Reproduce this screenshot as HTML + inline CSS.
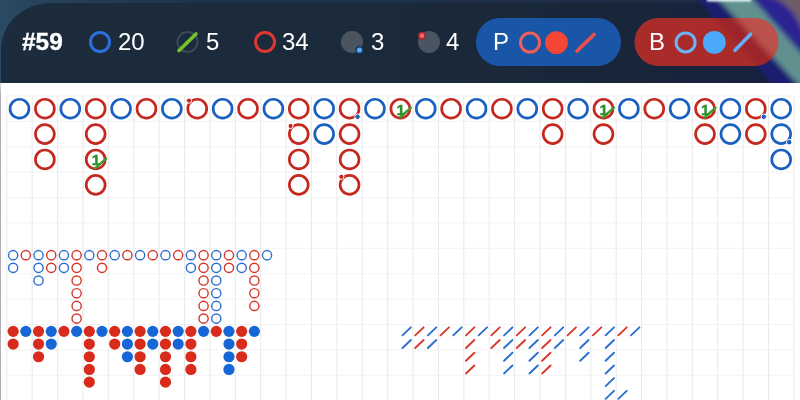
<!DOCTYPE html>
<html lang="en"><head><meta charset="utf-8"><title>Baccarat roads</title>
<style>
html,body{margin:0;padding:0}
body{width:800px;height:400px;overflow:hidden;position:relative;background:#fff;font-family:"Liberation Sans",sans-serif}
#bg{position:absolute;left:0;top:0;width:800px;height:83px;background:linear-gradient(90deg,#2b4a63 0,#25435b 40px,#1d3348 200px,#1b2a44 800px)}
#hdr{position:absolute;left:1px;top:3px;width:799px;height:80px;background:linear-gradient(90deg,#1c2c3c 0,#1b2a3a 400px,#18253a 640px,#172040 800px);border-radius:50px 30px 0 0/46px 30px 0 0}
.t{will-change:transform;position:absolute;top:28px;height:28px;line-height:28px;font-size:24px;color:#fff;white-space:nowrap}
.pill{position:absolute;top:18px;height:48px;border-radius:24px}
#ov{position:absolute;left:0;top:0}
#board{position:absolute;left:0;top:0;will-change:transform}
#edge{position:absolute;left:0;top:83px;width:1px;height:317px;background:linear-gradient(#dcdcdf,#b4adb3 12px,#b4adb3)}
</style></head><body>
<div id="bg"></div>
<div id="hdr"></div>
<svg id="ov" width="800" height="84" viewBox="0 0 800 84">
<defs><filter id="bl" filterUnits="userSpaceOnUse" x="600" y="-20" width="220" height="130"><feGaussianBlur stdDeviation="2.4"/></filter>
<filter id="bl2" filterUnits="userSpaceOnUse" x="680" y="-20" width="120" height="60"><feGaussianBlur stdDeviation="1.3"/></filter>
<clipPath id="cp"><rect x="0" y="0" width="800" height="83"/></clipPath>
<clipPath id="cpb"><rect x="634.5" y="18" width="144" height="48" rx="24"/></clipPath></defs>
<g clip-path="url(#cp)"><g filter="url(#bl)">
<polygon points="694.5,-4 716,-4 806,92 779.5,92" fill="#1d1d84" opacity=".7"/>
<polygon points="715,-4 750,-4 836,92 805,92" fill="#6a9c98" opacity=".9"/>
<polygon points="750,-4 778,-4 872,92 836,92" fill="#2a2298" opacity=".92"/>
<path d="M758 -6 Q791 -3 805 36 L830 -6Z" fill="#6e5c6a"/>
</g>
<rect x="707" y="-3" width="44" height="4.4" fill="#eaffff" filter="url(#bl2)"/>
</g>
<rect x="476" y="18" width="145" height="48" rx="24" fill="#1a56a8"/>
<rect x="634.5" y="18" width="144" height="48" rx="24" fill="#a92c2b"/>
<g clip-path="url(#cpb)"><g filter="url(#bl)">
<polygon points="695,-4 716,-4 806,92 780,92" fill="#5a1030" opacity=".16"/>
<polygon points="716,-4 750,-4 836,92 806,92" fill="#ffd8c0" opacity=".22"/>
</g></g>
<circle cx="100" cy="42" r="9.5" fill="none" stroke="#2c70e0" stroke-width="3"/>
<circle cx="187.5" cy="42" r="10" fill="none" stroke="#3a4957" stroke-width="2"/>
<path d="M179 50.5L196 34" stroke="#77c22c" stroke-width="3.6" stroke-linecap="round"/>
<circle cx="265" cy="42" r="9.5" fill="none" stroke="#e2372f" stroke-width="3"/>
<circle cx="352" cy="42" r="11" fill="#4a5561"/>
<circle cx="359.4" cy="50" r="3.4" fill="#5aa8f6" stroke="#123a66" stroke-width="1.6"/>
<circle cx="429" cy="42" r="11" fill="#4a5561"/>
<circle cx="422" cy="35.8" r="3.2" fill="#f5656c" stroke="#a3262b" stroke-width="1.5"/>
<circle cx="530" cy="42.6" r="9.5" fill="none" stroke="#ee5f58" stroke-width="3"/>
<circle cx="556.5" cy="42.6" r="11.4" fill="#f44634"/>
<path d="M577 51L594 34.5" stroke="#ee4d48" stroke-width="3.7" stroke-linecap="round"/>
<circle cx="685.6" cy="42.4" r="9.5" fill="none" stroke="#6cb2f6" stroke-width="3"/>
<circle cx="714.3" cy="42.4" r="11.4" fill="#4aa9fb"/>
<path d="M735 50.2L750.6 34.2" stroke="#66adf5" stroke-width="3.7" stroke-linecap="round"/>
</svg>
<div class="t" style="left:22.3px;font-weight:700;font-size:24.4px;-webkit-text-stroke:0.35px #fff">#59</div>
<div class="t" style="left:117.5px">20</div>
<div class="t" style="left:206px">5</div>
<div class="t" style="left:282px">34</div>
<div class="t" style="left:371px">3</div>
<div class="t" style="left:445.8px">4</div>
<div class="t" style="left:493px">P</div>
<div class="t" style="left:649px">B</div>
<svg id="board" width="800" height="400" viewBox="0 0 800 400" font-family="Liberation Sans, sans-serif">
<rect x="0" y="83" width="800" height="317" fill="#fff"/>
<g stroke="#e6e6e8" stroke-width="0.9" fill="none"><path d="M6.80 96.00V400"/><path d="M32.19 96.00V400"/><path d="M57.58 96.00V400"/><path d="M82.97 96.00V400"/><path d="M108.36 96.00V400"/><path d="M133.75 96.00V400"/><path d="M159.14 96.00V400"/><path d="M184.53 96.00V400"/><path d="M209.92 96.00V400"/><path d="M235.31 96.00V400"/><path d="M260.70 96.00V400"/><path d="M286.09 96.00V400"/><path d="M311.48 96.00V400"/><path d="M336.87 96.00V400"/><path d="M362.26 96.00V400"/><path d="M387.65 96.00V400"/><path d="M413.04 96.00V400"/><path d="M438.43 96.00V400"/><path d="M463.82 96.00V400"/><path d="M489.21 96.00V400"/><path d="M514.60 96.00V400"/><path d="M539.99 96.00V400"/><path d="M565.38 96.00V400"/><path d="M590.77 96.00V400"/><path d="M616.16 96.00V400"/><path d="M641.55 96.00V400"/><path d="M666.94 96.00V400"/><path d="M692.33 96.00V400"/><path d="M717.72 96.00V400"/><path d="M743.11 96.00V400"/><path d="M768.50 96.00V400"/><path d="M793.89 96.00V400"/></g>
<g stroke="#f0f0f2" stroke-width="0.8" fill="none"><path d="M6.80 96.00H793.89"/><path d="M6.80 121.39H793.89"/><path d="M6.80 146.78H793.89"/><path d="M6.80 172.17H793.89"/><path d="M6.80 197.56H793.89"/><path d="M6.80 222.95H793.89"/><path d="M6.80 248.34H793.89"/><path d="M6.80 273.73H793.89"/><path d="M6.80 299.12H793.89"/><path d="M6.80 324.51H793.89"/><path d="M6.80 349.90H793.89"/><path d="M6.80 375.29H793.89"/><path d="M6.80 400.68H793.89"/></g>
<circle cx="19.50" cy="108.69" r="9.45" fill="none" stroke="#1a60c0" stroke-width="2.7"/>
<circle cx="44.88" cy="108.69" r="9.45" fill="none" stroke="#c5281f" stroke-width="2.7"/>
<circle cx="44.88" cy="134.09" r="9.45" fill="none" stroke="#c5281f" stroke-width="2.7"/>
<circle cx="44.88" cy="159.47" r="9.45" fill="none" stroke="#c5281f" stroke-width="2.7"/>
<circle cx="70.28" cy="108.69" r="9.45" fill="none" stroke="#1a60c0" stroke-width="2.7"/>
<circle cx="95.67" cy="108.69" r="9.45" fill="none" stroke="#c5281f" stroke-width="2.7"/>
<circle cx="95.67" cy="134.09" r="9.45" fill="none" stroke="#c5281f" stroke-width="2.7"/>
<circle cx="95.67" cy="159.47" r="9.45" fill="none" stroke="#c5281f" stroke-width="2.7"/>
<path d="M95.07 168.28L106.27 158.47" stroke="#3f9e2a" stroke-width="2.4" stroke-linecap="round"/>
<text x="95.97" y="165.38" font-size="15.2" font-weight="700" fill="#2d902b" stroke="#2d902b" stroke-width="0.45" text-anchor="middle">1</text>
<circle cx="95.67" cy="184.87" r="9.45" fill="none" stroke="#c5281f" stroke-width="2.7"/>
<circle cx="121.05" cy="108.69" r="9.45" fill="none" stroke="#1a60c0" stroke-width="2.7"/>
<circle cx="146.45" cy="108.69" r="9.45" fill="none" stroke="#c5281f" stroke-width="2.7"/>
<circle cx="171.84" cy="108.69" r="9.45" fill="none" stroke="#1a60c0" stroke-width="2.7"/>
<circle cx="197.23" cy="108.69" r="9.45" fill="none" stroke="#c5281f" stroke-width="2.7"/>
<circle cx="189.03" cy="100.59" r="2.6" fill="#c5281f" stroke="#fff" stroke-width="1.0"/>
<circle cx="222.62" cy="108.69" r="9.45" fill="none" stroke="#1a60c0" stroke-width="2.7"/>
<circle cx="248.01" cy="108.69" r="9.45" fill="none" stroke="#c5281f" stroke-width="2.7"/>
<circle cx="273.40" cy="108.69" r="9.45" fill="none" stroke="#1a60c0" stroke-width="2.7"/>
<circle cx="298.79" cy="108.69" r="9.45" fill="none" stroke="#c5281f" stroke-width="2.7"/>
<circle cx="298.79" cy="134.09" r="9.45" fill="none" stroke="#c5281f" stroke-width="2.7"/>
<circle cx="290.59" cy="125.99" r="2.6" fill="#c5281f" stroke="#fff" stroke-width="1.0"/>
<circle cx="298.79" cy="159.47" r="9.45" fill="none" stroke="#c5281f" stroke-width="2.7"/>
<circle cx="298.79" cy="184.87" r="9.45" fill="none" stroke="#c5281f" stroke-width="2.7"/>
<circle cx="324.18" cy="108.69" r="9.45" fill="none" stroke="#1a60c0" stroke-width="2.7"/>
<circle cx="324.18" cy="134.09" r="9.45" fill="none" stroke="#1a60c0" stroke-width="2.7"/>
<circle cx="349.56" cy="108.69" r="9.45" fill="none" stroke="#c5281f" stroke-width="2.7"/>
<circle cx="357.56" cy="116.79" r="2.75" fill="#1a60c0" stroke="#fff" stroke-width="1.0"/>
<circle cx="349.56" cy="134.09" r="9.45" fill="none" stroke="#c5281f" stroke-width="2.7"/>
<circle cx="349.56" cy="159.47" r="9.45" fill="none" stroke="#c5281f" stroke-width="2.7"/>
<circle cx="349.56" cy="184.87" r="9.45" fill="none" stroke="#c5281f" stroke-width="2.7"/>
<circle cx="341.37" cy="176.77" r="2.6" fill="#c5281f" stroke="#fff" stroke-width="1.0"/>
<circle cx="374.96" cy="108.69" r="9.45" fill="none" stroke="#1a60c0" stroke-width="2.7"/>
<circle cx="400.35" cy="108.69" r="9.45" fill="none" stroke="#c5281f" stroke-width="2.7"/>
<path d="M399.75 117.49L410.95 107.69" stroke="#3f9e2a" stroke-width="2.4" stroke-linecap="round"/>
<text x="400.65" y="114.59" font-size="15.2" font-weight="700" fill="#2d902b" stroke="#2d902b" stroke-width="0.45" text-anchor="middle">1</text>
<circle cx="425.74" cy="108.69" r="9.45" fill="none" stroke="#1a60c0" stroke-width="2.7"/>
<circle cx="451.12" cy="108.69" r="9.45" fill="none" stroke="#c5281f" stroke-width="2.7"/>
<circle cx="476.52" cy="108.69" r="9.45" fill="none" stroke="#1a60c0" stroke-width="2.7"/>
<circle cx="501.91" cy="108.69" r="9.45" fill="none" stroke="#c5281f" stroke-width="2.7"/>
<circle cx="527.29" cy="108.69" r="9.45" fill="none" stroke="#1a60c0" stroke-width="2.7"/>
<circle cx="552.68" cy="108.69" r="9.45" fill="none" stroke="#c5281f" stroke-width="2.7"/>
<circle cx="552.68" cy="134.09" r="9.45" fill="none" stroke="#c5281f" stroke-width="2.7"/>
<circle cx="578.07" cy="108.69" r="9.45" fill="none" stroke="#1a60c0" stroke-width="2.7"/>
<circle cx="603.46" cy="108.69" r="9.45" fill="none" stroke="#c5281f" stroke-width="2.7"/>
<path d="M602.86 117.49L614.06 107.69" stroke="#3f9e2a" stroke-width="2.4" stroke-linecap="round"/>
<text x="603.76" y="114.59" font-size="15.2" font-weight="700" fill="#2d902b" stroke="#2d902b" stroke-width="0.45" text-anchor="middle">1</text>
<circle cx="603.46" cy="134.09" r="9.45" fill="none" stroke="#c5281f" stroke-width="2.7"/>
<circle cx="628.86" cy="108.69" r="9.45" fill="none" stroke="#1a60c0" stroke-width="2.7"/>
<circle cx="654.25" cy="108.69" r="9.45" fill="none" stroke="#c5281f" stroke-width="2.7"/>
<circle cx="679.63" cy="108.69" r="9.45" fill="none" stroke="#1a60c0" stroke-width="2.7"/>
<circle cx="705.02" cy="108.69" r="9.45" fill="none" stroke="#c5281f" stroke-width="2.7"/>
<path d="M704.42 117.49L715.62 107.69" stroke="#3f9e2a" stroke-width="2.4" stroke-linecap="round"/>
<text x="705.32" y="114.59" font-size="15.2" font-weight="700" fill="#2d902b" stroke="#2d902b" stroke-width="0.45" text-anchor="middle">1</text>
<circle cx="705.02" cy="134.09" r="9.45" fill="none" stroke="#c5281f" stroke-width="2.7"/>
<circle cx="730.41" cy="108.69" r="9.45" fill="none" stroke="#1a60c0" stroke-width="2.7"/>
<circle cx="730.41" cy="134.09" r="9.45" fill="none" stroke="#1a60c0" stroke-width="2.7"/>
<circle cx="755.80" cy="108.69" r="9.45" fill="none" stroke="#c5281f" stroke-width="2.7"/>
<circle cx="763.80" cy="116.79" r="2.75" fill="#1a60c0" stroke="#fff" stroke-width="1.0"/>
<circle cx="755.80" cy="134.09" r="9.45" fill="none" stroke="#c5281f" stroke-width="2.7"/>
<circle cx="781.19" cy="108.69" r="9.45" fill="none" stroke="#1a60c0" stroke-width="2.7"/>
<circle cx="781.19" cy="134.09" r="9.45" fill="none" stroke="#1a60c0" stroke-width="2.7"/>
<circle cx="789.19" cy="142.19" r="2.75" fill="#1a60c0" stroke="#fff" stroke-width="1.0"/>
<circle cx="781.19" cy="159.47" r="9.45" fill="none" stroke="#1a60c0" stroke-width="2.7"/>
<circle cx="13.15" cy="255.14" r="4.6" fill="none" stroke="#2a6fd0" stroke-width="1.4"/>
<circle cx="13.15" cy="267.83" r="4.6" fill="none" stroke="#2a6fd0" stroke-width="1.4"/>
<circle cx="25.84" cy="255.14" r="4.6" fill="none" stroke="#d3362c" stroke-width="1.4"/>
<circle cx="38.54" cy="255.14" r="4.6" fill="none" stroke="#2a6fd0" stroke-width="1.4"/>
<circle cx="38.54" cy="267.83" r="4.6" fill="none" stroke="#2a6fd0" stroke-width="1.4"/>
<circle cx="38.54" cy="280.53" r="4.6" fill="none" stroke="#2a6fd0" stroke-width="1.4"/>
<circle cx="51.23" cy="255.14" r="4.6" fill="none" stroke="#d3362c" stroke-width="1.4"/>
<circle cx="51.23" cy="267.83" r="4.6" fill="none" stroke="#d3362c" stroke-width="1.4"/>
<circle cx="63.93" cy="255.14" r="4.6" fill="none" stroke="#2a6fd0" stroke-width="1.4"/>
<circle cx="63.93" cy="267.83" r="4.6" fill="none" stroke="#2a6fd0" stroke-width="1.4"/>
<circle cx="76.62" cy="255.14" r="4.6" fill="none" stroke="#d3362c" stroke-width="1.4"/>
<circle cx="76.62" cy="267.83" r="4.6" fill="none" stroke="#d3362c" stroke-width="1.4"/>
<circle cx="76.62" cy="280.53" r="4.6" fill="none" stroke="#d3362c" stroke-width="1.4"/>
<circle cx="76.62" cy="293.22" r="4.6" fill="none" stroke="#d3362c" stroke-width="1.4"/>
<circle cx="76.62" cy="305.92" r="4.6" fill="none" stroke="#d3362c" stroke-width="1.4"/>
<circle cx="76.62" cy="318.61" r="4.6" fill="none" stroke="#d3362c" stroke-width="1.4"/>
<circle cx="89.32" cy="255.14" r="4.6" fill="none" stroke="#2a6fd0" stroke-width="1.4"/>
<circle cx="102.01" cy="255.14" r="4.6" fill="none" stroke="#d3362c" stroke-width="1.4"/>
<circle cx="102.01" cy="267.83" r="4.6" fill="none" stroke="#d3362c" stroke-width="1.4"/>
<circle cx="114.71" cy="255.14" r="4.6" fill="none" stroke="#2a6fd0" stroke-width="1.4"/>
<circle cx="127.40" cy="255.14" r="4.6" fill="none" stroke="#d3362c" stroke-width="1.4"/>
<circle cx="140.10" cy="255.14" r="4.6" fill="none" stroke="#2a6fd0" stroke-width="1.4"/>
<circle cx="152.79" cy="255.14" r="4.6" fill="none" stroke="#d3362c" stroke-width="1.4"/>
<circle cx="165.49" cy="255.14" r="4.6" fill="none" stroke="#2a6fd0" stroke-width="1.4"/>
<circle cx="178.18" cy="255.14" r="4.6" fill="none" stroke="#d3362c" stroke-width="1.4"/>
<circle cx="190.88" cy="255.14" r="4.6" fill="none" stroke="#2a6fd0" stroke-width="1.4"/>
<circle cx="190.88" cy="267.83" r="4.6" fill="none" stroke="#2a6fd0" stroke-width="1.4"/>
<circle cx="203.57" cy="255.14" r="4.6" fill="none" stroke="#d3362c" stroke-width="1.4"/>
<circle cx="203.57" cy="267.83" r="4.6" fill="none" stroke="#d3362c" stroke-width="1.4"/>
<circle cx="203.57" cy="280.53" r="4.6" fill="none" stroke="#d3362c" stroke-width="1.4"/>
<circle cx="203.57" cy="293.22" r="4.6" fill="none" stroke="#d3362c" stroke-width="1.4"/>
<circle cx="203.57" cy="305.92" r="4.6" fill="none" stroke="#d3362c" stroke-width="1.4"/>
<circle cx="203.57" cy="318.61" r="4.6" fill="none" stroke="#d3362c" stroke-width="1.4"/>
<circle cx="216.27" cy="255.14" r="4.6" fill="none" stroke="#2a6fd0" stroke-width="1.4"/>
<circle cx="216.27" cy="267.83" r="4.6" fill="none" stroke="#2a6fd0" stroke-width="1.4"/>
<circle cx="216.27" cy="280.53" r="4.6" fill="none" stroke="#2a6fd0" stroke-width="1.4"/>
<circle cx="216.27" cy="293.22" r="4.6" fill="none" stroke="#2a6fd0" stroke-width="1.4"/>
<circle cx="216.27" cy="305.92" r="4.6" fill="none" stroke="#2a6fd0" stroke-width="1.4"/>
<circle cx="216.27" cy="318.61" r="4.6" fill="none" stroke="#2a6fd0" stroke-width="1.4"/>
<circle cx="228.96" cy="255.14" r="4.6" fill="none" stroke="#d3362c" stroke-width="1.4"/>
<circle cx="228.96" cy="267.83" r="4.6" fill="none" stroke="#d3362c" stroke-width="1.4"/>
<circle cx="241.66" cy="255.14" r="4.6" fill="none" stroke="#2a6fd0" stroke-width="1.4"/>
<circle cx="241.66" cy="267.83" r="4.6" fill="none" stroke="#2a6fd0" stroke-width="1.4"/>
<circle cx="254.35" cy="255.14" r="4.6" fill="none" stroke="#d3362c" stroke-width="1.4"/>
<circle cx="254.35" cy="267.83" r="4.6" fill="none" stroke="#d3362c" stroke-width="1.4"/>
<circle cx="254.35" cy="280.53" r="4.6" fill="none" stroke="#d3362c" stroke-width="1.4"/>
<circle cx="254.35" cy="293.22" r="4.6" fill="none" stroke="#d3362c" stroke-width="1.4"/>
<circle cx="254.35" cy="305.92" r="4.6" fill="none" stroke="#d3362c" stroke-width="1.4"/>
<circle cx="267.05" cy="255.14" r="4.6" fill="none" stroke="#2a6fd0" stroke-width="1.4"/>
<circle cx="13.15" cy="331.36" r="5.6" fill="#d92b1c"/>
<circle cx="13.15" cy="344.05" r="5.6" fill="#d92b1c"/>
<circle cx="25.84" cy="331.36" r="5.6" fill="#1766d6"/>
<circle cx="38.54" cy="331.36" r="5.6" fill="#d92b1c"/>
<circle cx="38.54" cy="344.05" r="5.6" fill="#d92b1c"/>
<circle cx="38.54" cy="356.75" r="5.6" fill="#d92b1c"/>
<circle cx="51.23" cy="331.36" r="5.6" fill="#1766d6"/>
<circle cx="51.23" cy="344.05" r="5.6" fill="#1766d6"/>
<circle cx="63.93" cy="331.36" r="5.6" fill="#d92b1c"/>
<circle cx="76.62" cy="331.36" r="5.6" fill="#1766d6"/>
<circle cx="89.32" cy="331.36" r="5.6" fill="#d92b1c"/>
<circle cx="89.32" cy="344.05" r="5.6" fill="#d92b1c"/>
<circle cx="89.32" cy="356.75" r="5.6" fill="#d92b1c"/>
<circle cx="89.32" cy="369.44" r="5.6" fill="#d92b1c"/>
<circle cx="89.32" cy="382.14" r="5.6" fill="#d92b1c"/>
<circle cx="102.01" cy="331.36" r="5.6" fill="#1766d6"/>
<circle cx="114.71" cy="331.36" r="5.6" fill="#d92b1c"/>
<circle cx="114.71" cy="344.05" r="5.6" fill="#d92b1c"/>
<circle cx="127.40" cy="331.36" r="5.6" fill="#1766d6"/>
<circle cx="127.40" cy="344.05" r="5.6" fill="#1766d6"/>
<circle cx="127.40" cy="356.75" r="5.6" fill="#1766d6"/>
<circle cx="140.10" cy="331.36" r="5.6" fill="#d92b1c"/>
<circle cx="140.10" cy="344.05" r="5.6" fill="#d92b1c"/>
<circle cx="140.10" cy="356.75" r="5.6" fill="#d92b1c"/>
<circle cx="140.10" cy="369.44" r="5.6" fill="#d92b1c"/>
<circle cx="152.79" cy="331.36" r="5.6" fill="#1766d6"/>
<circle cx="152.79" cy="344.05" r="5.6" fill="#1766d6"/>
<circle cx="165.49" cy="331.36" r="5.6" fill="#d92b1c"/>
<circle cx="165.49" cy="344.05" r="5.6" fill="#d92b1c"/>
<circle cx="165.49" cy="356.75" r="5.6" fill="#d92b1c"/>
<circle cx="165.49" cy="369.44" r="5.6" fill="#d92b1c"/>
<circle cx="165.49" cy="382.14" r="5.6" fill="#d92b1c"/>
<circle cx="178.18" cy="331.36" r="5.6" fill="#1766d6"/>
<circle cx="178.18" cy="344.05" r="5.6" fill="#1766d6"/>
<circle cx="190.88" cy="331.36" r="5.6" fill="#d92b1c"/>
<circle cx="190.88" cy="344.05" r="5.6" fill="#d92b1c"/>
<circle cx="190.88" cy="356.75" r="5.6" fill="#d92b1c"/>
<circle cx="190.88" cy="369.44" r="5.6" fill="#d92b1c"/>
<circle cx="203.57" cy="331.36" r="5.6" fill="#1766d6"/>
<circle cx="216.27" cy="331.36" r="5.6" fill="#d92b1c"/>
<circle cx="228.96" cy="331.36" r="5.6" fill="#1766d6"/>
<circle cx="228.96" cy="344.05" r="5.6" fill="#1766d6"/>
<circle cx="228.96" cy="356.75" r="5.6" fill="#1766d6"/>
<circle cx="228.96" cy="369.44" r="5.6" fill="#1766d6"/>
<circle cx="241.66" cy="331.36" r="5.6" fill="#d92b1c"/>
<circle cx="241.66" cy="344.05" r="5.6" fill="#d92b1c"/>
<circle cx="241.66" cy="356.75" r="5.6" fill="#d92b1c"/>
<circle cx="254.35" cy="331.36" r="5.6" fill="#1766d6"/>
<path d="M402.49 335.36L410.89 327.36" stroke="#2a6fd0" stroke-width="1.9" stroke-linecap="round"/>
<path d="M402.49 348.05L410.89 340.05" stroke="#2a6fd0" stroke-width="1.9" stroke-linecap="round"/>
<path d="M415.19 335.36L423.59 327.36" stroke="#d8382c" stroke-width="1.9" stroke-linecap="round"/>
<path d="M415.19 348.05L423.59 340.05" stroke="#d8382c" stroke-width="1.9" stroke-linecap="round"/>
<path d="M427.88 335.36L436.28 327.36" stroke="#2a6fd0" stroke-width="1.9" stroke-linecap="round"/>
<path d="M427.88 348.05L436.28 340.05" stroke="#2a6fd0" stroke-width="1.9" stroke-linecap="round"/>
<path d="M440.58 335.36L448.98 327.36" stroke="#d8382c" stroke-width="1.9" stroke-linecap="round"/>
<path d="M453.27 335.36L461.67 327.36" stroke="#2a6fd0" stroke-width="1.9" stroke-linecap="round"/>
<path d="M465.97 335.36L474.37 327.36" stroke="#d8382c" stroke-width="1.9" stroke-linecap="round"/>
<path d="M465.97 348.05L474.37 340.05" stroke="#d8382c" stroke-width="1.9" stroke-linecap="round"/>
<path d="M465.97 360.75L474.37 352.75" stroke="#d8382c" stroke-width="1.9" stroke-linecap="round"/>
<path d="M465.97 373.44L474.37 365.44" stroke="#d8382c" stroke-width="1.9" stroke-linecap="round"/>
<path d="M478.66 335.36L487.06 327.36" stroke="#2a6fd0" stroke-width="1.9" stroke-linecap="round"/>
<path d="M491.36 335.36L499.76 327.36" stroke="#d8382c" stroke-width="1.9" stroke-linecap="round"/>
<path d="M491.36 348.05L499.76 340.05" stroke="#d8382c" stroke-width="1.9" stroke-linecap="round"/>
<path d="M504.05 335.36L512.45 327.36" stroke="#2a6fd0" stroke-width="1.9" stroke-linecap="round"/>
<path d="M504.05 348.05L512.45 340.05" stroke="#2a6fd0" stroke-width="1.9" stroke-linecap="round"/>
<path d="M504.05 360.75L512.45 352.75" stroke="#2a6fd0" stroke-width="1.9" stroke-linecap="round"/>
<path d="M504.05 373.44L512.45 365.44" stroke="#2a6fd0" stroke-width="1.9" stroke-linecap="round"/>
<path d="M516.75 335.36L525.15 327.36" stroke="#d8382c" stroke-width="1.9" stroke-linecap="round"/>
<path d="M516.75 348.05L525.15 340.05" stroke="#d8382c" stroke-width="1.9" stroke-linecap="round"/>
<path d="M529.44 335.36L537.84 327.36" stroke="#2a6fd0" stroke-width="1.9" stroke-linecap="round"/>
<path d="M529.44 348.05L537.84 340.05" stroke="#2a6fd0" stroke-width="1.9" stroke-linecap="round"/>
<path d="M529.44 360.75L537.84 352.75" stroke="#2a6fd0" stroke-width="1.9" stroke-linecap="round"/>
<path d="M529.44 373.44L537.84 365.44" stroke="#2a6fd0" stroke-width="1.9" stroke-linecap="round"/>
<path d="M542.14 335.36L550.54 327.36" stroke="#d8382c" stroke-width="1.9" stroke-linecap="round"/>
<path d="M542.14 348.05L550.54 340.05" stroke="#d8382c" stroke-width="1.9" stroke-linecap="round"/>
<path d="M542.14 360.75L550.54 352.75" stroke="#d8382c" stroke-width="1.9" stroke-linecap="round"/>
<path d="M542.14 373.44L550.54 365.44" stroke="#d8382c" stroke-width="1.9" stroke-linecap="round"/>
<path d="M554.83 335.36L563.23 327.36" stroke="#2a6fd0" stroke-width="1.9" stroke-linecap="round"/>
<path d="M554.83 348.05L563.23 340.05" stroke="#2a6fd0" stroke-width="1.9" stroke-linecap="round"/>
<path d="M567.53 335.36L575.93 327.36" stroke="#d8382c" stroke-width="1.9" stroke-linecap="round"/>
<path d="M580.22 335.36L588.62 327.36" stroke="#2a6fd0" stroke-width="1.9" stroke-linecap="round"/>
<path d="M580.22 348.05L588.62 340.05" stroke="#2a6fd0" stroke-width="1.9" stroke-linecap="round"/>
<path d="M580.22 360.75L588.62 352.75" stroke="#2a6fd0" stroke-width="1.9" stroke-linecap="round"/>
<path d="M592.92 335.36L601.32 327.36" stroke="#d8382c" stroke-width="1.9" stroke-linecap="round"/>
<path d="M605.61 335.36L614.01 327.36" stroke="#2a6fd0" stroke-width="1.9" stroke-linecap="round"/>
<path d="M605.61 348.05L614.01 340.05" stroke="#2a6fd0" stroke-width="1.9" stroke-linecap="round"/>
<path d="M605.61 360.75L614.01 352.75" stroke="#2a6fd0" stroke-width="1.9" stroke-linecap="round"/>
<path d="M605.61 373.44L614.01 365.44" stroke="#2a6fd0" stroke-width="1.9" stroke-linecap="round"/>
<path d="M605.61 386.14L614.01 378.14" stroke="#2a6fd0" stroke-width="1.9" stroke-linecap="round"/>
<path d="M605.61 398.83L614.01 390.83" stroke="#2a6fd0" stroke-width="1.9" stroke-linecap="round"/>
<path d="M618.31 335.36L626.71 327.36" stroke="#d8382c" stroke-width="1.9" stroke-linecap="round"/>
<path d="M631.00 335.36L639.40 327.36" stroke="#2a6fd0" stroke-width="1.9" stroke-linecap="round"/>
<path d="M618.31 398.83L626.71 390.83" stroke="#2a6fd0" stroke-width="1.9" stroke-linecap="round"/>
</svg>
<div id="edge"></div>
</body></html>
